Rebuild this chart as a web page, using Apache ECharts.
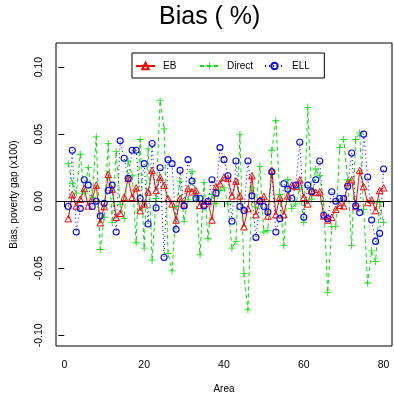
<!DOCTYPE html>
<html>
<head>
  <meta charset="utf-8">
  <script src="https://cdn.jsdelivr.net/npm/echarts@6/dist/echarts.min.js"></script>
  <style>
    html, body { margin: 0; padding: 0; background: #fff; }
    #chart { width: 394px; height: 394px; }
  </style>
</head>
<body>
<div id="chart"></div>
<script>
  // 区域编号 1..80
  var areas = Array.from({length: 80}, function (d, i) { return i + 1 })

  // EB
  var ebData = [
    -0.013, 0.005, -0.0035, 0.0015, 0.0095, -0.0035, 0.002, 0.012, -0.016, -0.004,
    0.020, 0.009, -0.012, -0.009, 0.003, 0.017, 0.003, 0.010, -0.007, -0.002,
    0.007, 0.023, 0.008, 0.018, 0.012, 0.002, -0.002, -0.014, 0.002, -0.002,
    0.0095, 0.007, 0.008, -0.003, -0.002, 0.000, -0.014, 0.011, 0.013, 0.018,
    0.017, 0.004, 0.015, 0.004, -0.019, -0.0055, 0.019, -0.010, 0.001, 0.0035,
    -0.011, 0.023, -0.010, 0.003, -0.010, 0.004, 0.012, 0.011, 0.016, 0.003,
    -0.002, 0.008, 0.0065, 0.007, -0.011, -0.014, -0.012, -0.006, -0.003, -0.0035,
    0.014, 0.016, -0.004, 0.023, 0.011, -0.001, 0.001, -0.007, 0.008, 0.010
  ]

  // Direct
  var directData = [
    0.028, 0.013, 0.006, 0.035, 0.006, 0.025, 0.003, 0.048, -0.036, -0.012,
    0.043, -0.016, 0.037, -0.0025, -0.013, 0.030, 0.019, -0.031, 0.046, -0.035,
    0.039, -0.044, 0.002, 0.075, 0.054, -0.039, -0.052, -0.004, 0.015, -0.015,
    0.001, 0.022, 0.003, -0.040, 0.014, -0.028, 0.005, -0.002, 0.008, 0.010,
    -0.002, -0.035, -0.030, 0.050, -0.054, -0.081, 0.010, -0.005, 0.026, -0.023,
    -0.022, 0.038, 0.060, 0.005, -0.033, 0.016, -0.0055, -0.002, 0.010, -0.016,
    0.070, 0.0015, 0.024, 0.019, 0.000, -0.068, -0.019, -0.019, 0.040, 0.046,
    0.016, -0.033, 0.046, 0.051, -0.006, -0.061, -0.037, -0.045, -0.001, -0.016
  ]

  // ELL
  var ellData = [
    -0.004, 0.038, -0.023, -0.0055, 0.016, 0.012, -0.004, 0.000, -0.011, -0.0015,
    0.008, 0.012, -0.023, 0.045, 0.032, 0.017, 0.038, 0.038, 0.002, 0.028,
    -0.017, 0.043, -0.005, 0.025, -0.042, 0.031, 0.028, -0.021, 0.023, -0.0035,
    0.031, 0.015, 0.002, 0.002, -0.0035, 0.000, 0.016, 0.006, 0.040, 0.031,
    0.019, -0.015, 0.030, -0.004, -0.007, 0.030, 0.004, -0.027, 0.000, -0.004,
    -0.008, 0.022, -0.023, -0.013, 0.013, 0.009, 0.002, 0.012, 0.044, -0.012,
    0.012, 0.007, 0.016, 0.030, -0.0105, -0.013, 0.007, 0.000, 0.002, 0.002,
    0.011, 0.036, -0.0035, -0.0085, 0.050, 0.018, -0.014, -0.030, -0.024, 0.024
  ]

  var xTicks = [0, 20, 40, 60, 80]
  var yTicks = [-0.10, -0.05, 0, 0.05, 0.10]

  function pairs(values) {
    return areas.map(function (a, i) { return [a, values[i]] })
  }

  var font = 'Liberation Sans'
  var green = '#00e600'
  var plusPath = 'path://M4.4,0H5.6V4.4H10V5.6H5.6V10H4.4V5.6H0V4.4H4.4Z'

  // 图例：R 的 horiz 图例是等宽列，这里拆成三个 legend，第一个带边框
  function legendItem(name, left, padding, bordered) {
    return {
      left: left,
      top: bordered ? 53 : 61,
      padding: padding,
      borderColor: bordered ? '#000' : 'transparent',
      borderWidth: bordered ? 1 : 0,
      borderRadius: 0,
      itemWidth: 19,
      itemHeight: 8,
      textStyle: {fontSize: 10, color: '#000', fontFamily: font, padding: [0, 0, 0, 3]},
      data: [name]
    }
  }

  var myChart = echarts.init(document.getElementById('chart'))
  var option = {
    animation: false,
    backgroundColor: '#fff',
    textStyle: {fontFamily: font},
    title: {
      text: 'Bias ( %)',
      left: 159,
      top: 5,
      padding: 0,
      textStyle: {fontSize: 25, fontWeight: 'normal', color: '#000', fontFamily: font}
    },
    legend: [
      legendItem('EB', 132, [8, 148, 7, 3], true),
      legendItem('Direct', 199, 0, false),
      legendItem('ELL', 264, 0, false)
    ],
    grid: {
      left: 56,
      top: 43,
      width: 336,
      height: 303,
      show: true,
      borderColor: '#000',
      borderWidth: 1,
      backgroundColor: 'transparent',
      containLabel: false,
      outerBoundsMode: 'none'
    },
    xAxis: {
      type: 'value',
      min: -2.08,
      max: 82.1,
      name: 'Area',
      nameLocation: 'middle',
      nameGap: 38,
      nameTextStyle: {fontSize: 10, color: '#000', fontFamily: font},
      axisLine: {show: false},
      axisTick: {show: true, length: 6, customValues: xTicks, lineStyle: {color: '#000'}},
      axisLabel: {
        customValues: xTicks,
        margin: 14,
        fontSize: 10.5,
        color: '#000',
        fontFamily: font
      },
      splitLine: {show: false}
    },
    yAxis: {
      type: 'value',
      min: -0.108,
      max: 0.118,
      name: 'Bias, poverty gap (x100)',
      nameLocation: 'middle',
      nameGap: 37,
      nameTextStyle: {fontSize: 10, color: '#000', fontFamily: font},
      axisLine: {show: false},
      axisTick: {show: true, length: 6, customValues: yTicks, lineStyle: {color: '#000'}},
      axisLabel: {
        customValues: yTicks,
        rotate: 90,
        margin: 11,
        fontSize: 10.5,
        color: '#000',
        fontFamily: font,
        formatter: function (v) { return v.toFixed(2) }
      },
      splitLine: {show: false}
    },
    series: [
      {
        name: 'EB',
        type: 'line',
        data: pairs(ebData),
        color: '#ff0000',
        symbol: 'triangle',
        symbolSize: 6.5,
        lineStyle: {color: '#ff0000', width: 1, type: 'solid'},
        itemStyle: {color: 'rgba(0,0,0,0)', borderColor: '#ff0000', borderWidth: 1},
        markLine: {
          silent: true,
          symbol: 'none',
          label: {show: false},
          lineStyle: {color: '#000', type: 'solid', width: 1},
          data: [{yAxis: 0}]
        }
      },
      {
        name: 'Direct',
        type: 'line',
        data: pairs(directData),
        color: green,
        symbol: plusPath,
        symbolSize: 7,
        lineStyle: {color: green, width: 1, type: [4, 3]},
        itemStyle: {color: green}
      },
      {
        name: 'ELL',
        type: 'line',
        data: pairs(ellData),
        color: '#0000ff',
        symbol: 'circle',
        symbolSize: 6,
        lineStyle: {color: '#0000ff', width: 1, type: [1, 3]},
        itemStyle: {color: 'rgba(0,0,0,0)', borderColor: '#0000ff', borderWidth: 1.1}
      }
    ]
  }
  myChart.setOption(option)
</script>
</body>
</html>
